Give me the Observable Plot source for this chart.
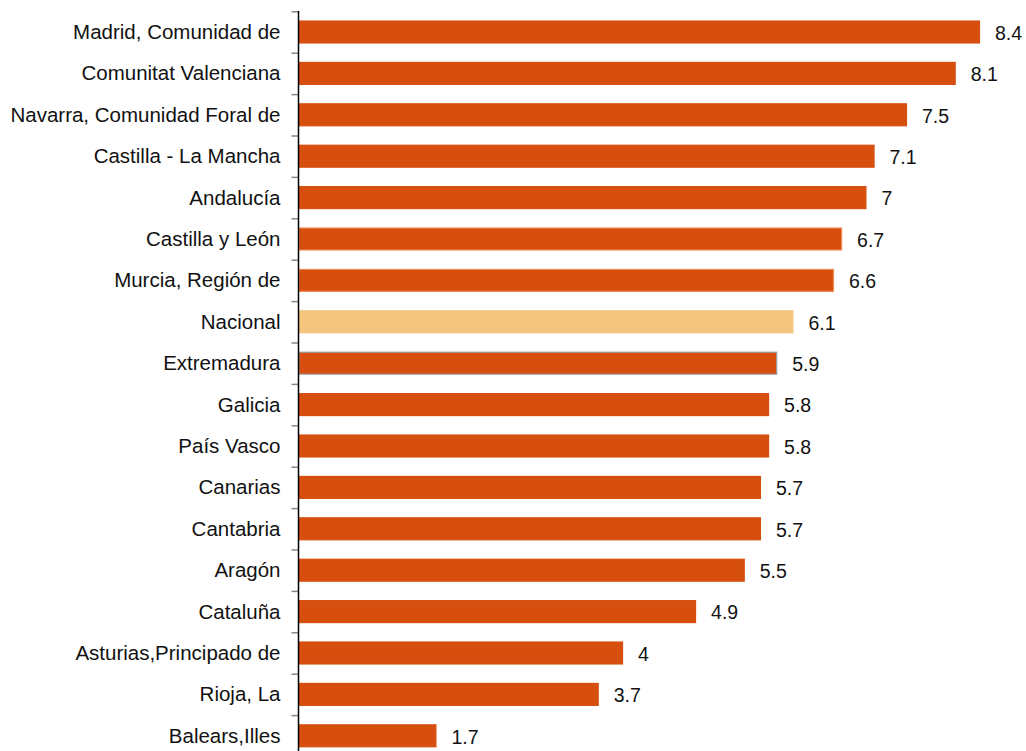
<!DOCTYPE html>
<html>
<head>
<meta charset="utf-8">
<script src="https://cdn.jsdelivr.net/npm/d3@7"></script>
<script src="https://cdn.jsdelivr.net/npm/@observablehq/plot@0.6"></script>
<style>
  html, body { margin: 0; padding: 0; background: #fff; overflow: hidden; }
  #chart svg { display: block; }
</style>
</head>
<body>
<div id="chart"></div>
<script>
const regions = [
  "Madrid, Comunidad de",
  "Comunitat Valenciana",
  "Navarra, Comunidad Foral de",
  "Castilla - La Mancha",
  "Andalucía",
  "Castilla y León",
  "Murcia, Región de",
  "Nacional",
  "Extremadura",
  "Galicia",
  "País Vasco",
  "Canarias",
  "Cantabria",
  "Aragón",
  "Cataluña",
  "Asturias,Principado de",
  "Rioja, La",
  "Balears,Illes"
];
const values = [8.4, 8.1, 7.5, 7.1, 7, 6.7, 6.6, 6.1, 5.9, 5.8, 5.8, 5.7, 5.7, 5.5, 4.9, 4, 3.7, 1.7];
const fills = ["#D64F0F","#D64F0F","#D64F0F","#D64F0F","#D64F0F","#D64F0F","#D64F0F","#F5C580","#D64F0F","#D64F0F","#D64F0F","#D64F0F","#D64F0F","#D64F0F","#D64F0F","#D64F0F","#D64F0F","#D64F0F"];
const strokes = ["#D64F0F","#D64F0F","#D64F0F","#D64F0F","#D64F0F","#F08A50","#F08A50","#F5C580","#9A9A9A","#D64F0F","#D64F0F","#D64F0F","#D64F0F","#D64F0F","#D64F0F","#D64F0F","#D64F0F","#D64F0F"];

const data = regions.map((r, i) => ({region: r, value: values[i], fill: fills[i], stroke: strokes[i]}));

const rowStep = 41.4;
const rowTop = 11.3;
const chart = Plot.plot({
  width: 1026,
  height: 751,
  marginLeft: 298,
  marginRight: 46,
  marginTop: 11,
  marginBottom: 0,
  style: {fontFamily: "Liberation Sans, Arial, sans-serif", fontSize: "20px", color: "#111", background: "#fff"},
  x: {domain: [0, 8.4], range: [298, 979.5], axis: null},
  y: {domain: regions, range: [rowTop, rowTop + rowStep * regions.length], paddingInner: 0.47, paddingOuter: 0.235, round: false, label: null, axis: null},
  marks: [
    Plot.barX(data, {y: "region", x: "value", fill: "fill", stroke: "stroke", strokeWidth: 1.2, insetLeft: 1}),
    Plot.ruleY(regions, {y: d => d, x1: -0.08, x2: 0, dy: -rowStep / 2, stroke: "#888", strokeWidth: 1.5}),
    Plot.ruleX([0], {stroke: "#000", strokeWidth: 1.5}),
    Plot.text(data, {y: "region", x: "value", text: d => String(d.value), textAnchor: "start", dx: 15, dy: 1, fill: "#111", fontSize: 19.5}),
    Plot.axisY({tickSize: 0, tickPadding: 18, fontSize: 20.5, fill: "#111", label: null})
  ]
});
document.getElementById("chart").appendChild(chart);
</script>
</body>
</html>
